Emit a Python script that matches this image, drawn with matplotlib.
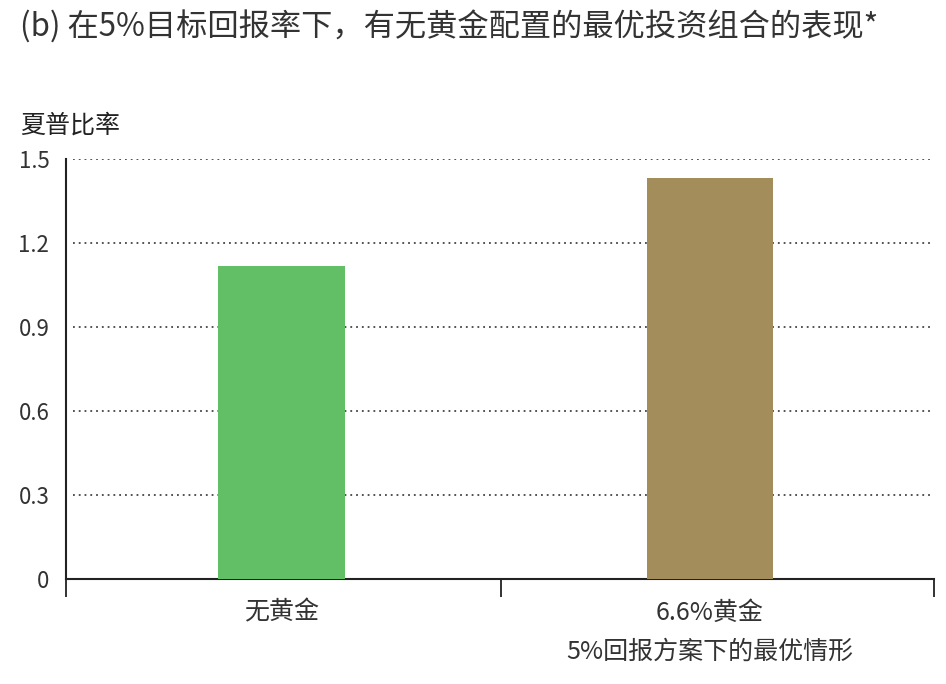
import numpy as np
import matplotlib
matplotlib.use('Agg')
import matplotlib.pyplot as plt

plt.rcParams['font.family'] = ['Noto Sans CJK SC', 'DejaVu Sans']

title = '(b) 在5%目标回报率下，有无黄金配置的最优投资组合的表现*'
ylabel = '夏普比率'
categories = ['无黄金', '6.6%黄金']
subtitle = '5%回报方案下的最优情形'
sharpe = [1.118, 1.432]
colors = ['#62bf66', '#a38d5b']
yticks = [0, 0.3, 0.6, 0.9, 1.2, 1.5]
ytick_labels = ['0', '0.3', '0.6', '0.9', '1.2', '1.5']

def main():
    fig = plt.figure(figsize=(9.46, 6.84), dpi=100)
    ax = fig.add_axes([0.0698, 0.1535, 0.9175, 0.614])
    x = np.arange(len(categories))
    ax.bar(x, sharpe, width=0.296, color=colors, zorder=3)
    ax.set_xlim(-0.503, 1.523)
    ax.set_ylim(0, 1.5)

    ax.set_yticks(yticks)
    ax.set_yticklabels(ytick_labels)
    ax.tick_params(axis='y', length=0, pad=12, labelsize=16, labelcolor='#333333')
    for t in yticks[1:]:
        ax.plot([0.008, 0.995], [t, t], transform=ax.get_yaxis_transform(),
                color='#444444', linestyle=(0, (1, 2.2)), linewidth=1.3, zorder=1)

    ax.set_xticks([-0.503, 0.512, 1.523])
    ax.set_xticklabels([])
    ax.tick_params(axis='x', length=13, width=1.3, color='#222222', direction='out')

    for s in ['top', 'right']:
        ax.spines[s].set_visible(False)
    ax.spines['left'].set_linewidth(1.5)
    ax.spines['bottom'].set_linewidth(1.5)
    ax.spines['left'].set_color('#222222')
    ax.spines['bottom'].set_color('#222222')

    for xi, lab in zip(x, categories):
        ax.text(xi, -0.12, lab, ha='center', va='center', fontsize=18,
                color='#333333')
    ax.text(x[1], -0.26, subtitle, ha='center', va='center', fontsize=18,
            color='#333333', style='italic')

    fig.text(0.021, 0.961, title, ha='left', va='center', fontsize=22.5, color='#333333')
    fig.text(0.021, 0.817, ylabel, ha='left', va='center', fontsize=18, color='#222222',
             fontweight='medium')

    fig.savefig('out.png', dpi=100, facecolor='white')

if __name__ == '__main__':
    main()
